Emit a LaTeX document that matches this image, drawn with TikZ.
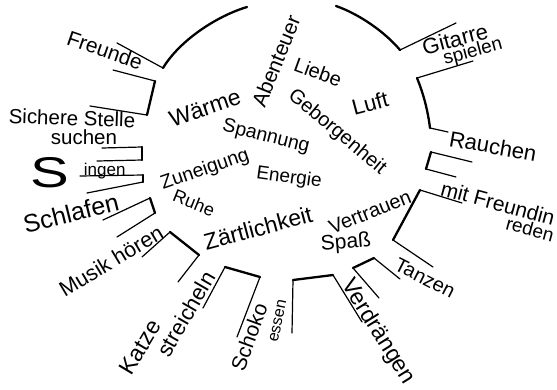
\documentclass[tikz,border=0pt]{standalone}
\usepackage{fontspec}
\setmainfont{Liberation Sans}
\newcommand{\myfs}[1]{\fontsize{#1}{#1}\selectfont}
\tikzset{
  base/.style={line width=2.3pt, line cap=round, line join=round},
  rayln/.style={line width=1.2pt, line cap=round},
  txt/.style={inner sep=0pt, anchor=center},
}
\begin{document}
\begin{tikzpicture}[x=1pt,y=-1pt]
\useasboundingbox (0,0) rectangle (557,389);
% ---- outline of the sun ----
% top-left arc and Freunde ray
\draw[base] (163,68) .. controls (180,40) and (217,16) .. (247,7);
\draw[rayln] (163,68) -- (117,43);
% B1
\draw[rayln] (113,70) -- (155,81);
\draw[base] (155,81) -- (147,115);
\draw[rayln] (147,115) -- (90,106);
% B2
\draw[rayln] (102,148) -- (142,147);
\draw[base] (142,147) -- (142,160);
\draw[rayln] (142,160) -- (97,161);
% B3
\draw[rayln] (80,176) -- (143,175);
\draw[base] (143,175) -- (143,182);
\draw[rayln] (143,182) -- (87,193);
% B4
\draw[rayln] (103,220) -- (150,198);
\draw[base] (150,198) -- (155,213);
\draw[rayln] (155,213) -- (117,237);
% B5
\draw[rayln] (142,257) -- (170,232);
\draw[base] (170,232) -- (199,255);
\draw[rayln] (199,255) -- (178,282);
% B6
\draw[rayln] (203,308) -- (225,267);
\draw[base] (225,267) -- (260,277);
\draw[rayln] (260,277) -- (237,337);
% B7
\draw[rayln] (292,333) -- (293,280);
\draw[base] (293,280) -- (333,275);
\draw[rayln] (333,275) -- (362,322);
% B8
\draw[rayln] (379,298) -- (353,268);
\draw[base] (353,268) -- (374,258);
\draw[rayln] (374,258) -- (400,279);
% B9
\draw[rayln] (433,267) -- (393,240);
\draw[base] (393,240) -- (420,190);
\draw[rayln] (420,190) -- (462,203);
% B10
\draw[rayln] (456,177) -- (426,169);
\draw[base] (426,169) -- (431,152);
\draw[rayln] (431,152) -- (472,162);
% B11
\draw[rayln] (448,132) -- (430,128);
\draw[base] (430,128) .. controls (428,112) and (424,95) .. (417,78);
\draw[rayln] (417,78) -- (473,61);
% Gitarre top line and top-right arc
\draw[rayln] (456,23) -- (400,50);
\draw[base] (400,50) .. controls (385,32) and (359,14) .. (336,6);

% ---- texts outside ----
\node[txt, rotate=-19] (freunde) at (105,50) {\myfs{21}Freunde};
\node[txt, rotate=-2] (sichere) at (72,118) {\myfs{20.5}Sichere Stelle};
\node[txt] (suchen) at (84,137) {\myfs{20.5}suchen};
\node[inner sep=0pt, anchor=base west] (singen) at (30,187)
  {\scalebox{1.35}[1]{\myfs{43}S}\hspace{15pt}\raisebox{12pt}{\myfs{17}ingen}};
\node[txt, rotate=14] (schlafen) at (71,213) {\myfs{25}Schlafen};
\node[txt, rotate=31] (musik) at (111,261) {\myfs{21.5}Musik hören};
\node[txt, rotate=59] (katze) at (140,347) {\myfs{23}Katze};
\node[txt, rotate=60] (streicheln) at (186,314) {\myfs{22}streicheln};
\node[txt, rotate=70] (schoko) at (249,337) {\myfs{21}Schoko};
\node[txt, rotate=78] (essen) at (278,321) {\myfs{16}essen};
\node[txt, rotate=-58] (verdraengen) at (378,332) {\myfs{23}Verdrängen};
\node[txt, rotate=-27] (tanzen) at (425,278) {\myfs{20}Tanzen};
\node[txt, rotate=-15] (mitfreundin) at (498,203) {\myfs{21}mit Freundin};
\node[txt, rotate=-15] (reden) at (530,229) {\myfs{19}reden};
\node[txt, rotate=-10] (rauchen) at (493,146) {\myfs{22}Rauchen};
\node[txt, rotate=15] (gitarre) at (455,39) {\myfs{22}Gitarre};
\node[txt, rotate=15] (spielen) at (473,52) {\myfs{19}spielen};

% ---- texts inside ----
\node[txt, rotate=19] (waerme) at (205,108) {\myfs{23}Wärme};
\node[txt, rotate=68] (abenteuer) at (276,61) {\myfs{21}Abenteuer};
\node[txt, rotate=-20] (liebe) at (318,72) {\myfs{20}Liebe};
\node[txt, rotate=-40] (geborgenheit) at (337,132) {\myfs{20}Geborgenheit};
\node[txt, rotate=15] (luft) at (370,103) {\myfs{22}Luft};
\node[txt, rotate=-14] (spannung) at (266,137) {\myfs{19.5}Spannung};
\node[txt, rotate=19] (zuneigung) at (205,170) {\myfs{19.5}Zuneigung};
\node[txt, rotate=-8] (energie) at (289,178) {\myfs{19}Energie};
\node[txt, rotate=-22] (ruhe) at (194,203) {\myfs{18}Ruhe};
\node[txt, rotate=15] (zaertlichkeit) at (258,228) {\myfs{23}Zärtlichkeit};
\node[txt, rotate=22] (vertrauen) at (370,212) {\myfs{20}Vertrauen};
\node[txt, rotate=5] (spass) at (346,243) {\myfs{21}Spaß};
\end{tikzpicture}
\end{document}
